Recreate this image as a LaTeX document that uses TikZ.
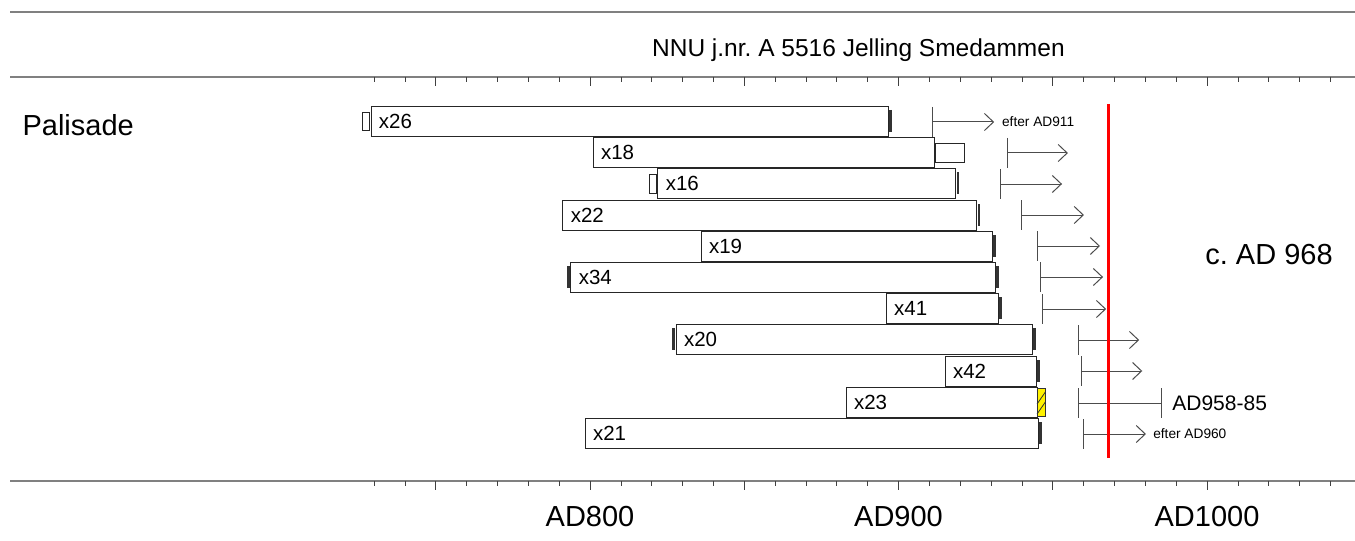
\documentclass[tikz,border=0pt]{standalone}
\usepackage{fontspec}
\setmainfont{Liberation Sans}
\usetikzlibrary{arrows.meta}
\frenchspacing

\tikzset{
    rule/.style={draw=black!50, line width=1.6pt},
    tick/.style={draw=black!75, line width=0.7pt},
    bar/.style={draw=black!85, fill=white, line width=0.9pt},
    endmark/.style={draw=black!80, line width=2.8pt},
    lbl/.style={anchor=west, inner sep=0pt, font=\fontsize{20.5}{20}\selectfont},
    stub/.style={draw=black!70, line width=1pt},
    later/.style={stub, -{Straight Barb[length=9pt,width=17pt]}},
    note/.style={anchor=west, inner sep=0pt, font=\fontsize{13.7}{14}\selectfont},
    big/.style={font=\fontsize{29}{29}\selectfont},
}

\begin{document}
\begin{tikzpicture}[x=3.085pt, y=-1pt]
        \useasboundingbox (608.75,0) rectangle (1047.97,540);

        % frame and time axes
        \draw[rule] (612,12) -- (1048,12);
        \draw[rule] (612,77) -- (1048,77);
        \draw[rule] (612,481) -- (1048,481);
        \foreach \yr in {730,740,...,1040} {
            \draw[tick] (\yr,77) -- ++(0,5);
            \draw[tick] (\yr,481) -- ++(0,5);
        }
        \foreach \yr in {750,800,...,1000} {
            \draw[tick] (\yr,77) -- ++(0,9);
            \draw[tick] (\yr,481) -- ++(0,9);
        }

        \node[font=\fontsize{24.5}{24}\selectfont] (title) at (887,50) {NNU j.nr. A 5516 Jelling Smedammen};
        \node[big, anchor=west, inner sep=0pt] (palisade) at (616,125) {Palisade};
        \node[big] (ad800) at (800,517) {AD800};
        \node[big] (ad900) at (900,517) {AD900};
        \node[big] (ad1000) at (1000,517) {AD1000};

        % samples
        \filldraw[bar] (729.0,106) rectangle (896.6,136);
        \filldraw[bar] (726.1,112) rectangle (728.4,130);
        \draw[endmark] (897.3,110) -- (897.3,132);
        \node[lbl] (x26) at (731.5,121) {x26};

        \filldraw[bar] (801.0,137) rectangle (911.5,167);
        \filldraw[bar] (911.8,143) rectangle (921.3,162);
        \node[lbl] (x18) at (803.5,152) {x18};

        \filldraw[bar] (822.0,168) rectangle (918.6,198);
        \filldraw[bar] (819.4,174) rectangle (821.6,193);
        \draw[endmark] (919.3,172) -- (919.3,194);
        \node[lbl] (x16) at (824.5,183) {x16};

        \filldraw[bar] (791.2,200) rectangle (925.4,230);
        \draw[endmark] (926.1,204) -- (926.1,226);
        \node[lbl] (x22) at (793.7,215) {x22};

        \filldraw[bar] (836.0,231) rectangle (930.3,261);
        \draw[endmark] (931.0,235) -- (931.0,257);
        \node[lbl] (x19) at (838.5,246) {x19};

        \filldraw[bar] (793.8,262) rectangle (931.3,292);
        \draw[endmark] (793.0,266) -- (793.0,288);
        \draw[endmark] (932.0,266) -- (932.0,288);
        \node[lbl] (x34) at (796.3,277) {x34};

        \filldraw[bar] (896.0,293) rectangle (932.3,323);
        \draw[endmark] (933.0,297) -- (933.0,319);
        \node[lbl] (x41) at (898.5,308) {x41};

        \filldraw[bar] (827.9,324) rectangle (943.3,354);
        \draw[endmark] (827.1,328) -- (827.1,350);
        \draw[endmark] (944.0,328) -- (944.0,350);
        \node[lbl] (x20) at (830.4,339) {x20};

        \filldraw[bar] (915.1,356) rectangle (944.6,386);
        \draw[endmark] (945.3,360) -- (945.3,382);
        \node[lbl] (x42) at (917.6,371) {x42};

        \filldraw[bar] (883.0,387) rectangle (944.9,417);
        \filldraw[draw=black!80, fill=yellow, line width=0.8pt] (944.9,388) rectangle (947.6,416);
        \draw[black!80, line width=0.8pt] (944.9,404) -- (947.6,392) (944.9,414) -- (947.6,402);
        \node[lbl] (x23) at (885.5,402) {x23};

        \filldraw[bar] (798.4,418) rectangle (945.2,448);
        \draw[endmark] (946.0,422) -- (946.0,444);
        \node[lbl] (x21) at (800.9,433) {x21};

        % felling dates
        \draw[stub] (910.9,107) -- (910.9,137);
        \draw[later] (910.9,122) -- (931.0,122);
        \node[note] (efter911) at (933.5,122) {efter AD911};

        \draw[stub] (935.2,138) -- (935.2,168);
        \draw[later] (935.2,153) -- (954.9,153);
        \draw[stub] (933.2,169) -- (933.2,199);
        \draw[later] (933.2,184) -- (953.0,184);
        \draw[stub] (940.0,200) -- (940.0,230);
        \draw[later] (940.0,215) -- (960.1,215);
        \draw[stub] (944.9,231) -- (944.9,261);
        \draw[later] (944.9,246) -- (965.3,246);
        \draw[stub] (945.9,262) -- (945.9,292);
        \draw[later] (945.9,277) -- (966.3,277);
        \draw[stub] (946.8,294) -- (946.8,324);
        \draw[later] (946.8,309) -- (967.3,309);
        \draw[stub] (958.2,325) -- (958.2,355);
        \draw[later] (958.2,340) -- (978.0,340);
        \draw[stub] (959.2,356) -- (959.2,386);
        \draw[later] (959.2,371) -- (979.0,371);

        \draw[stub] (958.2,388) -- (958.2,418);
        \draw[stub] (985.1,388) -- (985.1,418);
        \draw[stub] (958.2,403) -- (985.1,403);
        \node[anchor=west, inner sep=0pt, font=\fontsize{21}{21}\selectfont] (ad958) at (988.7,403) {AD958-85};

        \draw[stub] (960.1,419) -- (960.1,449);
        \draw[later] (960.1,434) -- (980.2,434);
        \node[note] (efter960) at (982.5,434) {efter AD960};

        \draw[red, line width=2.6pt] (968,104) -- (968,458);
        \node[big, anchor=west, inner sep=0pt] (c968) at (999.4,255) {c. AD 968};
    \end{tikzpicture}
\end{document}
